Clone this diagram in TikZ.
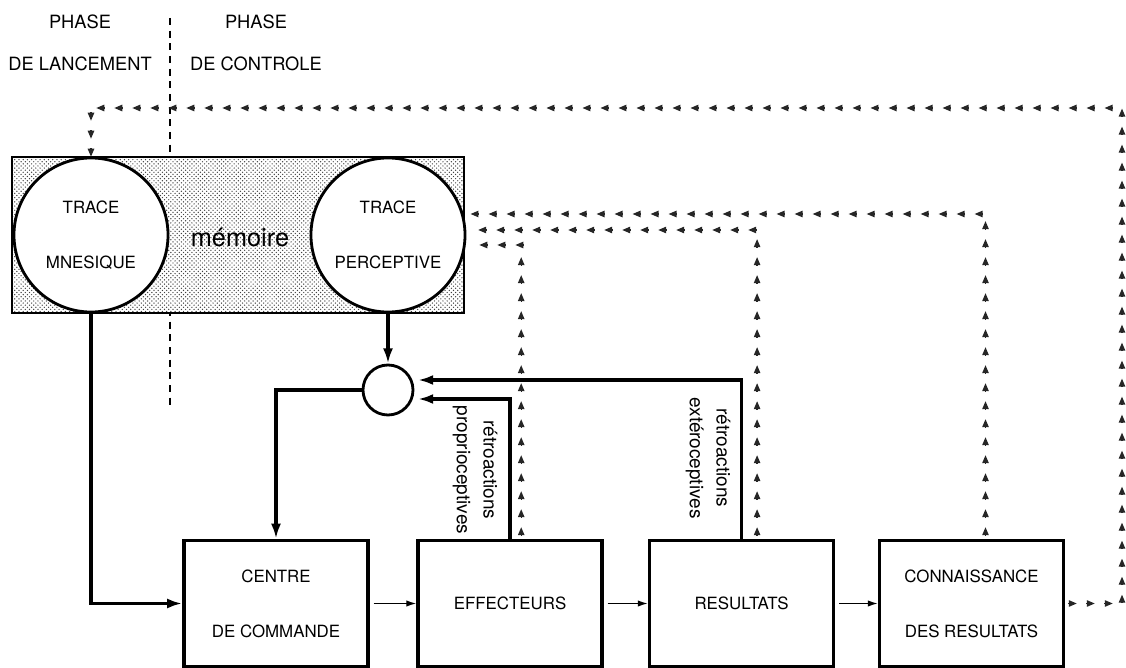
\documentclass[tikz,border=0pt]{standalone}
\usepackage{fontspec}
\setmainfont{TeX Gyre Heros}
\usetikzlibrary{arrows.meta,positioning,patterns,decorations.markings}

\begin{document}
\begin{tikzpicture}[x=0.025cm,y=-0.025cm,
  every node/.style={font=\fontsize{12}{39}\selectfont,align=center},
  bloc/.style={draw,line width=2.4pt,minimum width=4.6cm,minimum height=3.15cm,inner sep=0pt},
  trace/.style={circle,draw,line width=2pt,fill=white,minimum size=3.85cm,inner sep=0pt},
  fort/.style={line width=2.2pt,-{Latex[length=0.38cm,width=0.25cm]}},
  fin/.style={line width=0.9pt,shorten <=0.1cm,-{Latex[length=0.25cm,width=0.16cm]}},
  pointille/.style={decorate,decoration={markings,
    mark=between positions 0.2cm and 1 step 0.45cm with
    {\draw[black!85,line width=0.9pt,-{Triangle[length=0.2cm,width=0.16cm]}] (-0.12cm,0) -- (0.09cm,0);}}}]
\useasboundingbox (0,0) rectangle (1126,668);
\coordinate (p1) at (170,18);
\coordinate (p2) at (170,410);
\draw[line width=0.8pt,dash pattern=on 5pt off 4pt] (p1) -- (p2);
\node[font=\fontsize{13}{30}\selectfont] (lanc) at (80,43) {PHASE\\DE LANCEMENT};
\node[font=\fontsize{13}{30}\selectfont] (ctrl) at (256,43) {PHASE\\DE CONTROLE};
\node[draw,line width=1.2pt,preaction={fill=white},pattern=crosshatch dots,pattern color=black!75,
  minimum width=11.3cm,minimum height=3.9cm] (mem) at (238,235) {};
\node[trace] (mnes) at (91,235) {TRACE\\MNESIQUE};
\node[trace] (percep) at (388,235) {TRACE\\PERCEPTIVE};
\node[font=\fontsize{18}{20}\selectfont] (memo) at (240,237) {mémoire};
\node[circle,draw,line width=2pt,minimum size=1.25cm,inner sep=0pt] (comp) at (388,390) {};
\node[bloc] (centre) at (276,603.5) {CENTRE\\DE COMMANDE};
\node[bloc] (effect) at (510,603.5) {EFFECTEURS};
\node[bloc] (result) at (741.5,603.5) {RESULTATS};
\node[bloc] (connais) at (971.5,603.5) {CONNAISSANCE\\DES RESULTATS};
\node[rotate=-90,font=\fontsize{13.5}{19}\selectfont] (propl) at (475,470) {rétroactions\\proprioceptives};
\node[rotate=-90,font=\fontsize{13.5}{19}\selectfont] (extl) at (708,458) {rétroactions\\extéroceptives};
\coordinate (prop) at (418,399);
\coordinate (exte) at (418,380);
\coordinate (coin) at (1122,108);
\coordinate (fb1) at (465,214);
\coordinate (fb2) at (465,230);
\coordinate (fb3) at (465,245);
\draw[fort] (mnes.south) |- (centre.west);
\draw[fort] (percep.south) -- (comp.north);
\draw[fort] (comp.west) -| (centre.north);
\draw[fort] (effect.north) |- (prop);
\draw[fort] (result.north) |- (exte);
\draw[fin] (centre.east) -- (effect.west);
\draw[fin] (effect.east) -- (result.west);
\draw[fin] (result.east) -- (connais.west);
\path[pointille] (connais.east) -| (coin) -| (mnes.north);
\path[pointille] ([xshift=0.35cm]connais.north) |- (fb1);
\path[pointille] ([xshift=0.39cm]result.north) |- (fb2);
\path[pointille] ([xshift=0.28cm]effect.north) |- (fb3);
\end{tikzpicture}
\end{document}
